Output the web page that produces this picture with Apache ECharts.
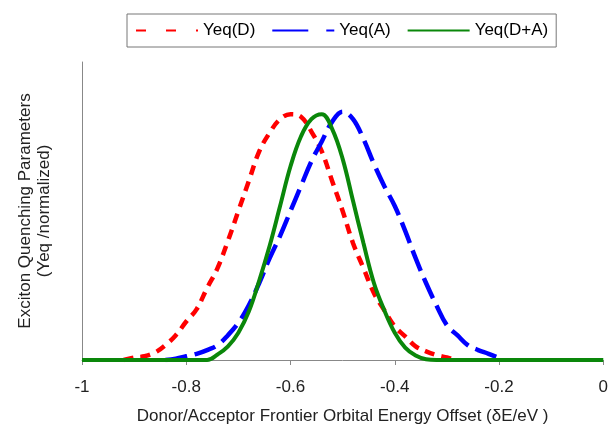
<!DOCTYPE html>
<html>
<head>
<meta charset="utf-8">
<script src="https://cdn.jsdelivr.net/npm/echarts@6/dist/echarts.min.js"></script>
<style>
  html, body { margin: 0; padding: 0; background: #fff; }
  #chart { width: 611px; height: 430px; }
</style>
</head>
<body>
<div id="chart"></div>
<script>
// energy offset (dE / eV), sampled every 0.02
const offsets = [-1, -0.98, -0.96, -0.94, -0.92, -0.9, -0.88, -0.86, -0.84, -0.82,
  -0.8, -0.78, -0.76, -0.74, -0.72, -0.7, -0.68, -0.66, -0.64, -0.62,
  -0.6, -0.58, -0.56, -0.54, -0.52, -0.5, -0.48, -0.46, -0.44, -0.42,
  -0.4, -0.38, -0.36, -0.34, -0.32, -0.3, -0.28, -0.26, -0.24, -0.22,
  -0.2, -0.18, -0.16, -0.14, -0.12, -0.1, -0.08, -0.06, -0.04, -0.02, 0];

const yeqD = [null, null, null, null, 0, 0.01, 0.015, 0.03, 0.06, 0.1,
  0.155, 0.205, 0.29, 0.37, 0.48, 0.6, 0.72, 0.84, 0.915, 0.97,
  0.99, 0.98, 0.92, 0.84, 0.72, 0.6, 0.47, 0.37, 0.27, 0.2,
  0.135, 0.095, 0.055, 0.035, 0.02, 0.01, 0, null, null, null,
  null, null, null, null, null, null, null, null, null, null, null];

const yeqA = [null, null, null, null, null, null, null, null, 0, 0.005,
  0.015, 0.025, 0.04, 0.06, 0.1, 0.15, 0.22, 0.31, 0.41, 0.5,
  0.6, 0.7, 0.8, 0.88, 0.96, 1.0, 0.97, 0.89, 0.79, 0.7,
  0.62, 0.52, 0.41, 0.31, 0.22, 0.14, 0.1, 0.06, 0.04, 0.025,
  0.008, null, null, null, null, null, null, null, null, null, null];

const yeqDA = [0, 0, 0, 0, 0, 0, 0, 0, 0, 0,
  0, 0, 0, 0.022, 0.055, 0.11, 0.195, 0.32, 0.46, 0.62,
  0.78, 0.9, 0.97, 0.99, 0.93, 0.81, 0.64, 0.47, 0.31, 0.2,
  0.11, 0.05, 0.018, 0.003, 0, 0, 0, 0, 0, 0,
  0, 0, 0, 0, 0, 0, 0, 0, 0, 0, 0];

const seriesNames = ['Yeq(D)', 'Yeq(A)', 'Yeq(D+A)'];

const pairs = (ys) => offsets.map((x, i) => [x, ys[i]]);
const font = 'Arial, "Liberation Sans", sans-serif';
const noMarker = { opacity: 0 };

const chart = echarts.init(document.getElementById('chart'));
chart.setOption({
  animation: false,
  backgroundColor: '#fff',
  textStyle: { fontFamily: font },
  legend: {
    left: 127,
    top: 14,
    padding: [8, 8],
    itemGap: 16,
    itemWidth: 62,
    itemHeight: 14,
    borderColor: '#777',
    borderWidth: 1,
    textStyle: { fontSize: 17, color: '#000', fontFamily: font },
    data: [
      { name: seriesNames[0], lineStyle: { type: [10, 20] }, itemStyle: noMarker },
      { name: seriesNames[1], lineStyle: { type: [36, 18] }, itemStyle: noMarker },
      { name: seriesNames[2], itemStyle: noMarker }
    ]
  },
  grid: { left: 82, right: 4, top: 62, bottom: 68 },
  xAxis: {
    type: 'value',
    min: -1,
    max: 0,
    interval: 0.2,
    name: 'Donor/Acceptor Frontier Orbital Energy Offset (δE/eV )',
    nameLocation: 'middle',
    nameGap: 48,
    nameTextStyle: { fontSize: 17, color: '#222', fontFamily: font },
    axisLine: { lineStyle: { color: '#888', width: 1 } },
    axisTick: { show: true, inside: false, length: 5, lineStyle: { color: '#888' } },
    axisLabel: { fontSize: 17, color: '#222', margin: 19, fontFamily: font },
    splitLine: { show: false }
  },
  yAxis: {
    type: 'value',
    min: 0,
    max: 1.2,
    name: 'Exciton Quenching Parameters\n(Yeq /normalized)',
    nameLocation: 'middle',
    nameGap: 28,
    nameTextStyle: { fontSize: 17, color: '#222', lineHeight: 19, fontFamily: font },
    axisLine: { show: true, onZero: false, lineStyle: { color: '#888', width: 1 } },
    axisTick: { show: false },
    axisLabel: { show: false },
    splitLine: { show: false }
  },
  series: [
    {
      name: seriesNames[0],
      type: 'line',
      smooth: 0.4,
      symbol: 'none',
      data: pairs(yeqD),
      lineStyle: { color: '#ff0000', width: 4.5, type: [10, 7] },
      itemStyle: { color: '#ff0000' }
    },
    {
      name: seriesNames[1],
      type: 'line',
      smooth: 0.4,
      symbol: 'none',
      data: pairs(yeqA),
      lineStyle: { color: '#0000ff', width: 4.5, type: [22, 8] },
      itemStyle: { color: '#0000ff' }
    },
    {
      name: seriesNames[2],
      type: 'line',
      smooth: 0.4,
      symbol: 'none',
      data: pairs(yeqDA),
      lineStyle: { color: '#0a870a', width: 4 },
      itemStyle: { color: '#0a870a' }
    }
  ]
});
</script>
</body>
</html>
